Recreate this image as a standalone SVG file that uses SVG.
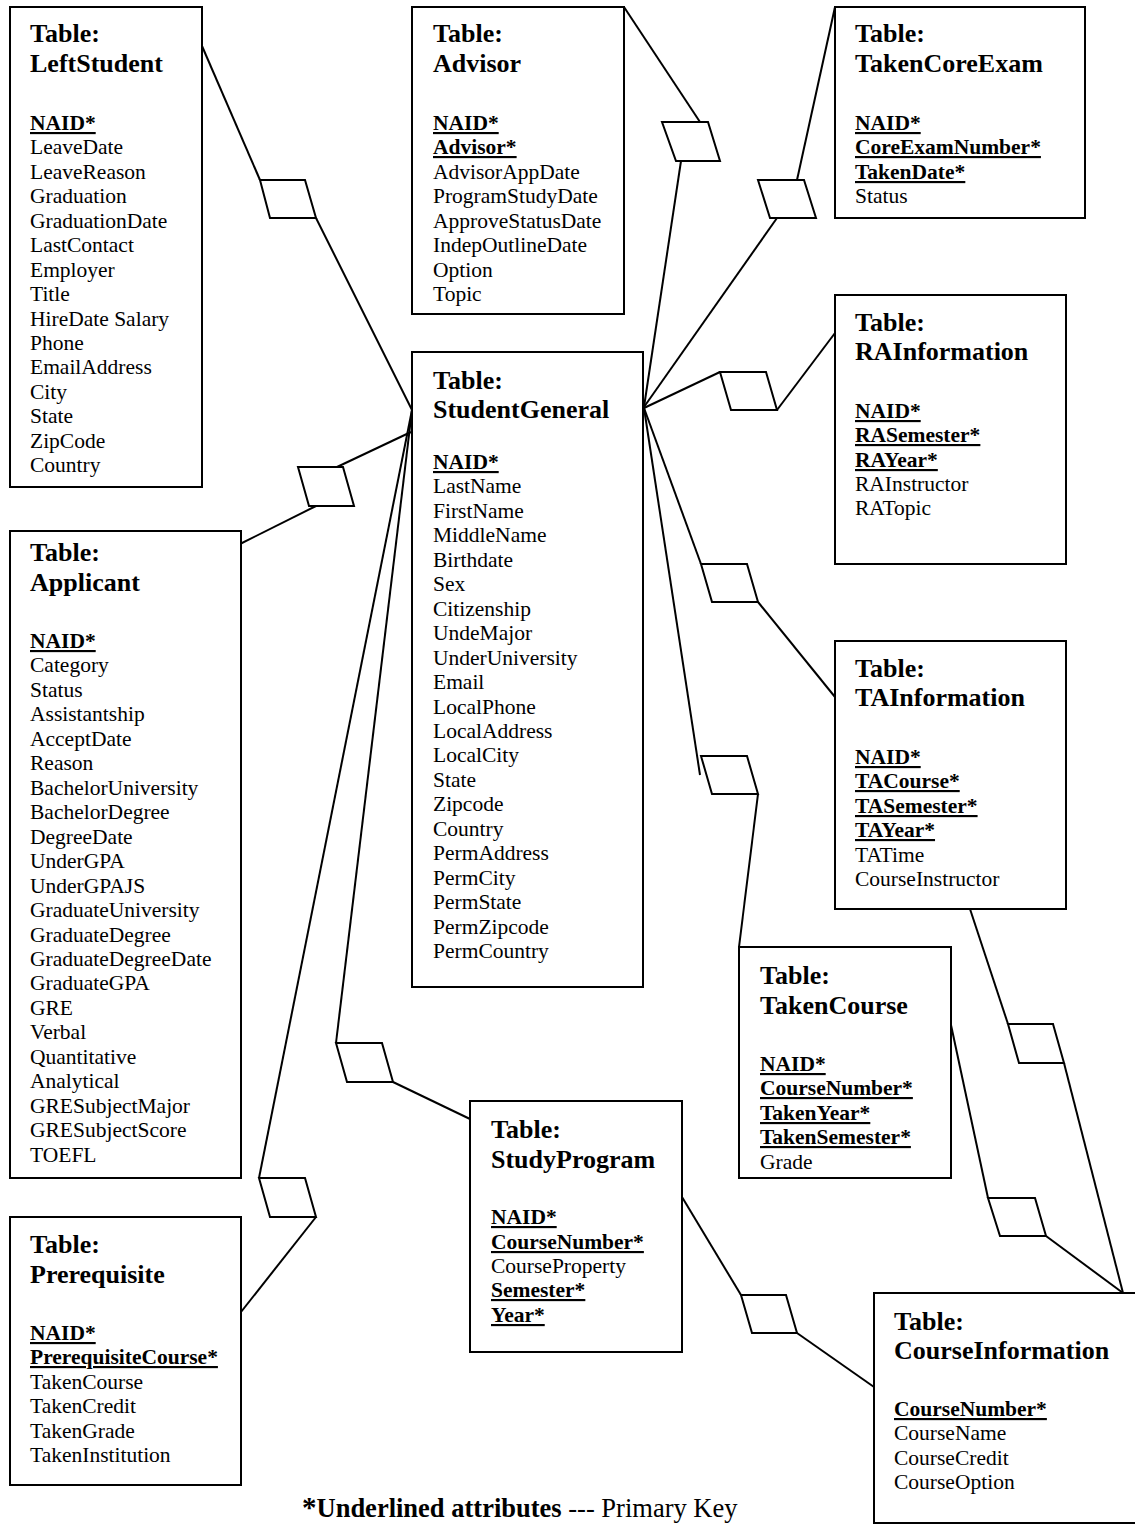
<svg xmlns="http://www.w3.org/2000/svg" width="1135" height="1524" viewBox="0 0 1135 1524">
<style>
.box{fill:#fff;stroke:#000;stroke-width:2}
.ln{fill:none;stroke:#000;stroke-width:2;stroke-linejoin:miter}
.dm{fill:#fff;stroke:#000;stroke-width:2}
text{font-family:"Liberation Serif","Times New Roman",serif;fill:#000}
.t{font-size:26px;font-weight:bold}
.a{font-size:21.5px}
.k{font-weight:bold;text-decoration:underline;text-decoration-thickness:2px}
.f{font-size:26.5px}
</style>
<rect width="1135" height="1524" fill="#fff"/>
<g id="connectors">
<polyline class="ln" points="202,46 260,180"/><polyline class="ln" points="316,218 412,410"/>
<polygon class="dm" points="260,180 305,180 316,218 270,218"/>
<polyline class="ln" points="624,7 700,122"/><polyline class="ln" points="681,161 644,407"/>
<polygon class="dm" points="662,122 708,122 720,161 676,161"/>
<polyline class="ln" points="835,7 797,180"/><polyline class="ln" points="777,218 644,407"/>
<polygon class="dm" points="758,180 804,180 816,218 770,218"/>
<polyline class="ln" points="644,408 720,372"/><polyline class="ln" points="777,410 835,333"/>
<polygon class="dm" points="720,372 766,372 777,410 731,410"/>
<polyline class="ln" points="644,408 701,564"/><polyline class="ln" points="758,602 835,697"/>
<polygon class="dm" points="701,564 747,564 758,602 712,602"/>
<polyline class="ln" points="644,408 700,775"/><polyline class="ln" points="758,794 739,947"/>
<polygon class="dm" points="701,756 747,756 758,794 712,794"/>
<polyline class="ln" points="412,410 336,1043"/><polyline class="ln" points="393,1082 470,1119"/>
<polygon class="dm" points="336,1043 382,1043 393,1082 347,1082"/>
<polyline class="ln" points="412,410 259,1178"/><polyline class="ln" points="316,1217 241,1312"/>
<polygon class="dm" points="259,1178 305,1178 316,1217 270,1217"/>
<polyline class="ln" points="411,432 337,467"/><polyline class="ln" points="316,506 240,544"/>
<polygon class="dm" points="298,467 343,467 354,506 309,506"/>
<polyline class="ln" points="970,909 1008,1024"/><polyline class="ln" points="1064,1063 1123,1293"/>
<polygon class="dm" points="1008,1024 1053,1024 1064,1063 1019,1063"/>
<polyline class="ln" points="951,1025 988,1198"/><polyline class="ln" points="1046,1236 1123,1293"/>
<polygon class="dm" points="988,1198 1035,1198 1046,1236 1000,1236"/>
<polyline class="ln" points="682,1197 741,1295"/><polyline class="ln" points="797,1333 874,1387"/>
<polygon class="dm" points="741,1295 786,1295 797,1333 752,1333"/>
</g>
<g id="LeftStudent">
<rect class="box" x="10" y="7" width="192" height="480"/>
<text class="t"><tspan x="30" y="42">Table:</tspan><tspan x="30" y="72">LeftStudent</tspan></text>
<text class="a"><tspan x="30" y="130" class="k">NAID*</tspan><tspan x="30" y="154">LeaveDate</tspan><tspan x="30" y="179">LeaveReason</tspan><tspan x="30" y="203">Graduation</tspan><tspan x="30" y="228">GraduationDate</tspan><tspan x="30" y="252">LastContact</tspan><tspan x="30" y="277">Employer</tspan><tspan x="30" y="301">Title</tspan><tspan x="30" y="326">HireDate Salary</tspan><tspan x="30" y="350">Phone</tspan><tspan x="30" y="374">EmailAddress</tspan><tspan x="30" y="399">City</tspan><tspan x="30" y="423">State</tspan><tspan x="30" y="448">ZipCode</tspan><tspan x="30" y="472">Country</tspan></text>
</g>
<g id="Advisor">
<rect class="box" x="412" y="7" width="212" height="307"/>
<text class="t"><tspan x="433" y="42">Table:</tspan><tspan x="433" y="72">Advisor</tspan></text>
<text class="a"><tspan x="433" y="130" class="k">NAID*</tspan><tspan x="433" y="154" class="k">Advisor*</tspan><tspan x="433" y="179">AdvisorAppDate</tspan><tspan x="433" y="203">ProgramStudyDate</tspan><tspan x="433" y="228">ApproveStatusDate</tspan><tspan x="433" y="252">IndepOutlineDate</tspan><tspan x="433" y="277">Option</tspan><tspan x="433" y="301">Topic</tspan></text>
</g>
<g id="TakenCoreExam">
<rect class="box" x="835" y="7" width="250" height="211"/>
<text class="t"><tspan x="855" y="42">Table:</tspan><tspan x="855" y="72">TakenCoreExam</tspan></text>
<text class="a"><tspan x="855" y="130" class="k">NAID*</tspan><tspan x="855" y="154" class="k">CoreExamNumber*</tspan><tspan x="855" y="179" class="k">TakenDate*</tspan><tspan x="855" y="203">Status</tspan></text>
</g>
<g id="RAInformation">
<rect class="box" x="835" y="295" width="231" height="269"/>
<text class="t"><tspan x="855" y="331">Table:</tspan><tspan x="855" y="360">RAInformation</tspan></text>
<text class="a"><tspan x="855" y="418" class="k">NAID*</tspan><tspan x="855" y="442" class="k">RASemester*</tspan><tspan x="855" y="467" class="k">RAYear*</tspan><tspan x="855" y="491">RAInstructor</tspan><tspan x="855" y="515">RATopic</tspan></text>
</g>
<g id="StudentGeneral">
<rect class="box" x="412" y="352" width="231" height="635"/>
<text class="t"><tspan x="433" y="389">Table:</tspan><tspan x="433" y="418">StudentGeneral</tspan></text>
<text class="a"><tspan x="433" y="469" class="k">NAID*</tspan><tspan x="433" y="493">LastName</tspan><tspan x="433" y="518">FirstName</tspan><tspan x="433" y="542">MiddleName</tspan><tspan x="433" y="567">Birthdate</tspan><tspan x="433" y="591">Sex</tspan><tspan x="433" y="616">Citizenship</tspan><tspan x="433" y="640">UndeMajor</tspan><tspan x="433" y="665">UnderUniversity</tspan><tspan x="433" y="689">Email</tspan><tspan x="433" y="714">LocalPhone</tspan><tspan x="433" y="738">LocalAddress</tspan><tspan x="433" y="762">LocalCity</tspan><tspan x="433" y="787">State</tspan><tspan x="433" y="811">Zipcode</tspan><tspan x="433" y="836">Country</tspan><tspan x="433" y="860">PermAddress</tspan><tspan x="433" y="885">PermCity</tspan><tspan x="433" y="909">PermState</tspan><tspan x="433" y="934">PermZipcode</tspan><tspan x="433" y="958">PermCountry</tspan></text>
</g>
<g id="Applicant">
<rect class="box" x="10" y="531" width="231" height="647"/>
<text class="t"><tspan x="30" y="561">Table:</tspan><tspan x="30" y="591">Applicant</tspan></text>
<text class="a"><tspan x="30" y="648" class="k">NAID*</tspan><tspan x="30" y="672">Category</tspan><tspan x="30" y="697">Status</tspan><tspan x="30" y="721">Assistantship</tspan><tspan x="30" y="746">AcceptDate</tspan><tspan x="30" y="770">Reason</tspan><tspan x="30" y="795">BachelorUniversity</tspan><tspan x="30" y="819">BachelorDegree</tspan><tspan x="30" y="844">DegreeDate</tspan><tspan x="30" y="868">UnderGPA</tspan><tspan x="30" y="893">UnderGPAJS</tspan><tspan x="30" y="917">GraduateUniversity</tspan><tspan x="30" y="942">GraduateDegree</tspan><tspan x="30" y="966">GraduateDegreeDate</tspan><tspan x="30" y="990">GraduateGPA</tspan><tspan x="30" y="1015">GRE</tspan><tspan x="30" y="1039">Verbal</tspan><tspan x="30" y="1064">Quantitative</tspan><tspan x="30" y="1088">Analytical</tspan><tspan x="30" y="1113">GRESubjectMajor</tspan><tspan x="30" y="1137">GRESubjectScore</tspan><tspan x="30" y="1162">TOEFL</tspan></text>
</g>
<g id="TAInformation">
<rect class="box" x="835" y="641" width="231" height="268"/>
<text class="t"><tspan x="855" y="677">Table:</tspan><tspan x="855" y="706">TAInformation</tspan></text>
<text class="a"><tspan x="855" y="764" class="k">NAID*</tspan><tspan x="855" y="788" class="k">TACourse*</tspan><tspan x="855" y="813" class="k">TASemester*</tspan><tspan x="855" y="837" class="k">TAYear*</tspan><tspan x="855" y="862">TATime</tspan><tspan x="855" y="886">CourseInstructor</tspan></text>
</g>
<g id="TakenCourse">
<rect class="box" x="739" y="947" width="212" height="231"/>
<text class="t"><tspan x="760" y="984">Table:</tspan><tspan x="760" y="1014">TakenCourse</tspan></text>
<text class="a"><tspan x="760" y="1071" class="k">NAID*</tspan><tspan x="760" y="1095" class="k">CourseNumber*</tspan><tspan x="760" y="1120" class="k">TakenYear*</tspan><tspan x="760" y="1144" class="k">TakenSemester*</tspan><tspan x="760" y="1169">Grade</tspan></text>
</g>
<g id="StudyProgram">
<rect class="box" x="470" y="1101" width="212" height="251"/>
<text class="t"><tspan x="491" y="1138">Table:</tspan><tspan x="491" y="1168">StudyProgram</tspan></text>
<text class="a"><tspan x="491" y="1224" class="k">NAID*</tspan><tspan x="491" y="1249" class="k">CourseNumber*</tspan><tspan x="491" y="1273">CourseProperty</tspan><tspan x="491" y="1297" class="k">Semester*</tspan><tspan x="491" y="1322" class="k">Year*</tspan></text>
</g>
<g id="Prerequisite">
<rect class="box" x="10" y="1217" width="231" height="268"/>
<text class="t"><tspan x="30" y="1253">Table:</tspan><tspan x="30" y="1283">Prerequisite</tspan></text>
<text class="a"><tspan x="30" y="1340" class="k">NAID*</tspan><tspan x="30" y="1364" class="k">PrerequisiteCourse*</tspan><tspan x="30" y="1389">TakenCourse</tspan><tspan x="30" y="1413">TakenCredit</tspan><tspan x="30" y="1438">TakenGrade</tspan><tspan x="30" y="1462">TakenInstitution</tspan></text>
</g>
<g id="CourseInformation">
<rect class="box" x="874" y="1293" width="275" height="230"/>
<text class="t"><tspan x="894" y="1330">Table:</tspan><tspan x="894" y="1359">CourseInformation</tspan></text>
<text class="a"><tspan x="894" y="1416" class="k">CourseNumber*</tspan><tspan x="894" y="1440">CourseName</tspan><tspan x="894" y="1465">CourseCredit</tspan><tspan x="894" y="1489">CourseOption</tspan></text>
</g>
<g id="legend">
<text class="f" x="302" y="1517"><tspan font-weight="bold" font-size="29px">*</tspan><tspan font-weight="bold">Underlined attributes</tspan> --- Primary Key</text>
</g>
</svg>
